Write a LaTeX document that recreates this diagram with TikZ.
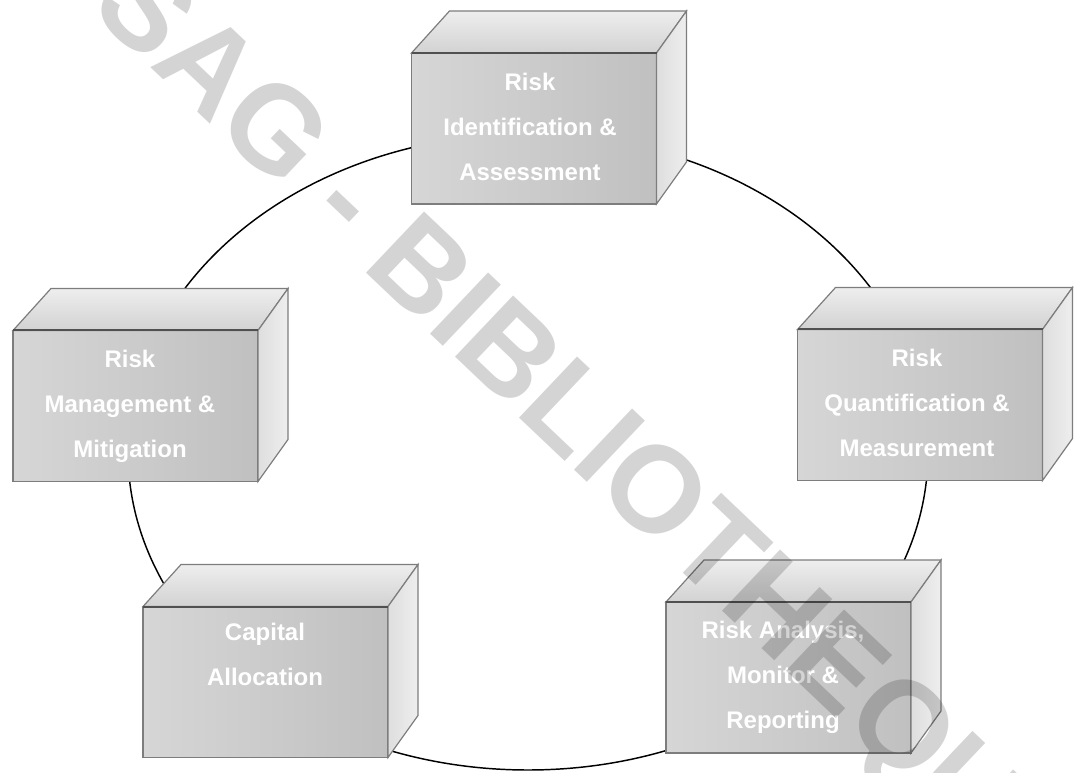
\documentclass[tikz,border=0pt]{standalone}
\usepackage{fontspec}
\setmainfont{Liberation Sans}

\definecolor{edgegray}{RGB}{125,125,125}
\definecolor{rimgray}{RGB}{80,80,80}
\definecolor{frontlight}{RGB}{214,214,214}
\definecolor{frontdark}{RGB}{192,192,192}
\definecolor{topgray}{RGB}{210,210,210}
\definecolor{sidegray}{RGB}{222,222,222}
\definecolor{sidelight}{RGB}{238,238,238}

\begin{document}
\begin{tikzpicture}[x=0.75pt,y=0.75pt,yscale=-1,xscale=1,
  front/.style={draw=edgegray, line width=0.9pt, left color=frontlight, right color=frontdark,
    minimum width=183.75pt, minimum height=113.25pt, inner sep=0pt, outer sep=0pt},
  topface/.style={draw=edgegray, line width=0.9pt, top color=sidelight, bottom color=topgray},
  sideface/.style={draw=edgegray, line width=0.9pt, left color=sidegray, right color=sidelight},
  rim/.style={draw=rimgray, line width=1.5pt},
  boxlabel/.style={text=white, font=\bfseries\fontsize{18}{33.75}\selectfont, align=center},
  ring/.style={line width=1.1pt},
  stamp/.style={rotate=-43.5, text=black, text opacity=0.17, font=\bfseries\fontsize{92}{92}\selectfont}]
\path [use as bounding box] (0,0) rectangle (1078,773);

%Shape: Ellipse [ring]
\coordinate (ring) at (528,452);
\draw [ring] (ring) ellipse [x radius=400, y radius=318];

%Shape: Box [ident]
\node [front] (ident) at (534,128.5) {};
\draw [topface] (ident.north west) -- ++(38,-42) -- ++(237,0) -- (ident.north east) -- cycle;
\draw [sideface] (ident.north east) -- ++(30,-42) -- ++(0,151) -- (ident.south east) -- cycle;
\draw [rim] (ident.north west) -- (ident.north east);

%Shape: Box [quant]
\node [front] (quant) at (920,405) {};
\draw [topface] (quant.north west) -- ++(38,-42) -- ++(237,0) -- (quant.north east) -- cycle;
\draw [sideface] (quant.north east) -- ++(30,-42) -- ++(0,151) -- (quant.south east) -- cycle;
\draw [rim] (quant.north west) -- (quant.north east);

%Shape: Box [analysis]
\node [front] (analysis) at (788.5,677.5) {};
\draw [topface] (analysis.north west) -- ++(38,-42) -- ++(237,0) -- (analysis.north east) -- cycle;
\draw [sideface] (analysis.north east) -- ++(30,-42) -- ++(0,151) -- (analysis.south east) -- cycle;
\draw [rim] (analysis.north west) -- (analysis.north east);

%Shape: Box [capital]
\node [front] (capital) at (265.5,682) {};
\draw [topface] (capital.north west) -- ++(38,-42) -- ++(237,0) -- (capital.north east) -- cycle;
\draw [sideface] (capital.north east) -- ++(30,-42) -- ++(0,151) -- (capital.south east) -- cycle;
\draw [rim] (capital.north west) -- (capital.north east);

%Shape: Box [mgmt]
\node [front] (mgmt) at (135.5,406) {};
\draw [topface] (mgmt.north west) -- ++(38,-42) -- ++(237,0) -- (mgmt.north east) -- cycle;
\draw [sideface] (mgmt.north east) -- ++(30,-42) -- ++(0,151) -- (mgmt.south east) -- cycle;
\draw [rim] (mgmt.north west) -- (mgmt.north east);

% Text Node
\node [boxlabel] (identlbl) at (530,127) {Risk\\Identification \&\\Assessment};
% Text Node
\node [boxlabel] (quantlbl) at (917,403) {Risk\\Quantification \&\\Measurement};
% Text Node
\node [boxlabel] (analysislbl) at (783,677) {Risk Analysis,\\Monitor \&\\Reporting};
% Text Node
\node [boxlabel] (capitallbl) at (265,654) {Capital\\Allocation};
% Text Node
\node [boxlabel] (mgmtlbl) at (130,406) {Risk\\Management \&\\Mitigation};

% Text Node
\begin{scope}
\clip (0,0) rectangle (1078,773);
\node [stamp] (stamplbl) at (582,435) {SAG - BIBLIOTHEQUE};
\end{scope}

\end{tikzpicture}
\end{document}
